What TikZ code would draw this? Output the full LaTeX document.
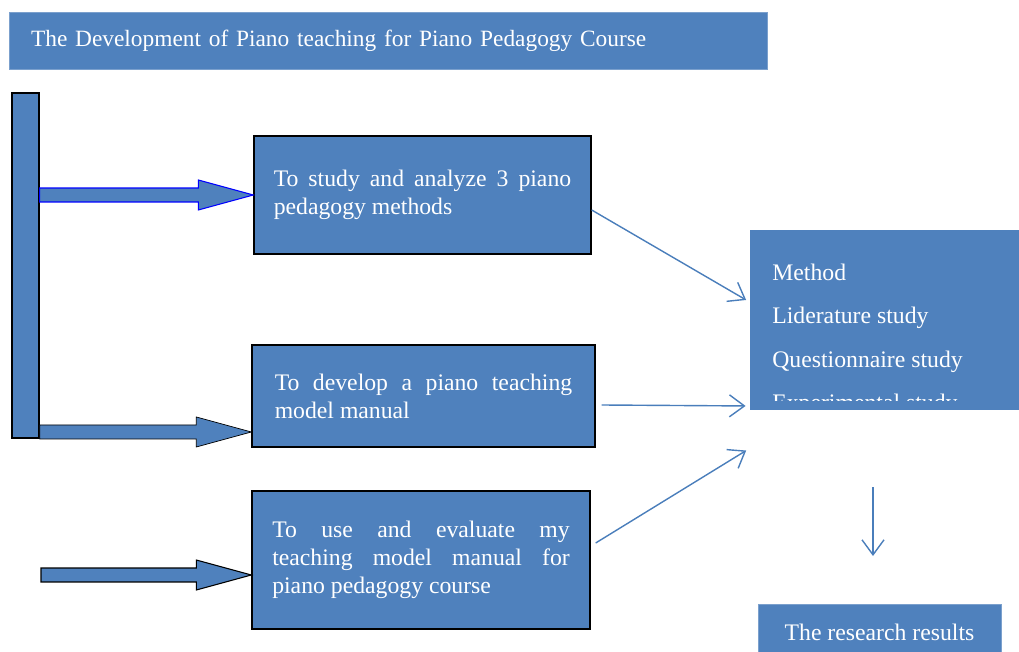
\documentclass[tikz,border=0pt]{standalone}
\usepackage{fontspec}
\setmainfont{Liberation Serif}
\usetikzlibrary{arrows.meta,calc}
\definecolor{boxblue}{HTML}{4F81BD}
\definecolor{linkblue}{HTML}{4A7EBB}
\newcommand\boxfont{\fontsize{13.5}{16}\selectfont}
\newcommand\fatarrow[3][]{%
  \draw[#1] let \p1=#2, \p2=#3 in
    (\x1,\y1+0.14cm) -- (\x2-1.1cm,\y1+0.14cm) -- (\x2-1.1cm,\y1+0.3cm) -- (\x2,\y2)
    -- (\x2-1.1cm,\y1-0.3cm) -- (\x2-1.1cm,\y1-0.14cm) -- (\x1,\y1-0.14cm) -- cycle;}
\tikzset{
  box/.style={fill=boxblue, draw=black, line width=0.8pt, text=white, font=\boxfont},
  plain/.style={fill=boxblue, draw=boxblue!75!white, line width=0.5pt, text=white, font=\boxfont},
  textbox/.style={text width=5.95cm, align=justify, inner sep=0pt},
  link/.style={draw=linkblue, line width=0.8pt, shorten >=0.08cm,
    -{Straight Barb[length=0.3cm,width=0.44cm]}}
}
\begin{document}
\begin{tikzpicture}[x=0.02cm, y=-0.02cm]
    \useasboundingbox (0,0) rectangle (1019,652);
    \node[plain, text width=14.3cm, inner xsep=0.44cm, minimum height=1.14cm, align=left, font=\fontsize{13.3}{16}\selectfont] (title) at (388.5,40.5) {The Development of Piano teaching for Piano Pedagogy Course};
    \node[box, minimum width=0.54cm, minimum height=6.9cm] (bar) at (25.5,265.5) {};
    \node[box, textbox, minimum width=6.74cm, minimum height=2.36cm] (study) at (422.5,195) {To study and analyze 3 piano\linebreak pedagogy methods};
    \node[box, textbox, minimum width=6.86cm, minimum height=2.04cm] (develop) at (423.5,396) {To develop a piano teaching\linebreak model manual};
    \node[box, textbox, minimum width=6.76cm, minimum height=2.76cm] (evaluate) at (421,560) {To use and evaluate my\linebreak teaching model manual for\linebreak piano pedagogy course};
    \node[plain, draw=none, minimum width=5.6cm, minimum height=3.6cm] (method) at (890,320) {};
    \begin{scope}
        \clip (method.north west) rectangle ([yshift=0.2cm]method.south east);
        \foreach \t [count=\i] in {Method, Liderature study, Questionnaire study, Experimental study}
            \node[anchor=base west, inner sep=0pt, text=white, font=\boxfont] (line\i) at (772,{280+43.5*(\i-1)}) {\t};
    \end{scope}
    \node[plain, minimum width=4.86cm, minimum height=1.12cm] (results) at (879.5,632) {The research results};
    \coordinate (tip2) at ([yshift=-0.72cm]develop.west);
    \coordinate (tip3) at ([yshift=-0.3cm]evaluate.west);
    \coordinate (tail3) at (41,575);
    \fatarrow[fill=boxblue, draw=blue, line width=0.6pt]{(bar.east|-study.west)}{(study.west)}
    \fatarrow[fill=boxblue]{(bar.east|-tip2)}{(tip2)}
    \fatarrow[fill=boxblue, draw=black, line width=0.6pt]{(tail3)}{(tip3)}
    \draw[link] ([yshift=-0.3cm]study.east) -- ([yshift=0.36cm]method.west);
    \draw[link] ([yshift=-0.18cm,xshift=0.12cm]develop.east) -- ([yshift=-1.72cm]method.west);
    \draw[link] ([yshift=0.34cm,xshift=0.1cm]evaluate.east) -- ([yshift=-0.76cm]method.south west);
    \coordinate (drop) at (873,487);
    \coordinate (land) at (873,556);
    \draw[link, shorten >=0pt] (drop) -- (land);
\end{tikzpicture}
\end{document}
